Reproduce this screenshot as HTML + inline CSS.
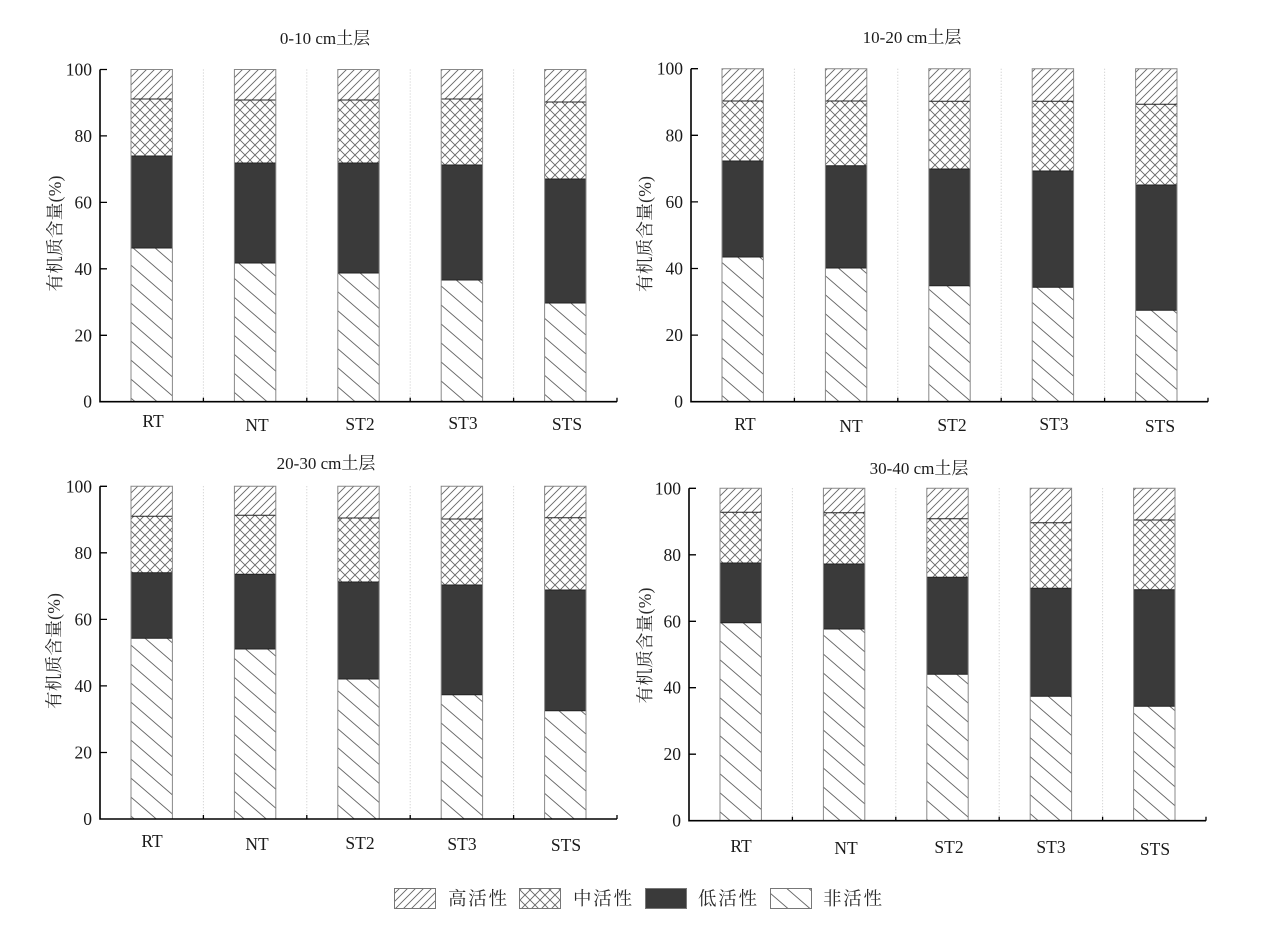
<!DOCTYPE html>
<html><head><meta charset="utf-8"><style>
html,body{margin:0;padding:0;background:#fff;}
svg{display:block;}
.tk{font-family:"Liberation Serif","Noto Serif CJK SC",serif;font-size:17.5px;fill:#1a1a1a;}
.tt{font-family:"Liberation Serif","Noto Serif CJK SC",serif;font-size:17px;fill:#1a1a1a;}
.yl{font-family:"Liberation Serif","Noto Serif CJK SC",serif;font-size:17.5px;fill:#2a2a2a;}
.lg{font-family:"Liberation Serif","Noto Serif CJK SC",serif;font-size:18.5px;fill:#2a2a2a;}
</style></head><body>
<svg width="1271" height="932" viewBox="0 0 1271 932" xmlns="http://www.w3.org/2000/svg">
<defs>
<pattern id="hi" patternUnits="userSpaceOnUse" width="8" height="8">
<rect width="8" height="8" fill="#fff"/>
<path d="M-1,1 L1,-1 M0,8 L8,0 M7,9 L9,7" stroke="#666" stroke-width="0.9"/>
</pattern>
<pattern id="mid" patternUnits="userSpaceOnUse" width="10" height="10">
<rect width="10" height="10" fill="#fff"/>
<path d="M0,0 L10,10 M-1,9 L1,11 M9,-1 L11,1 M0,10 L10,0 M-1,1 L1,-1 M9,11 L11,9" stroke="#666" stroke-width="0.9"/>
</pattern>
<pattern id="non" patternUnits="userSpaceOnUse" width="22" height="19">
<rect width="22" height="19" fill="#fff"/>
<path d="M0,0 L22,19 M-2,17.27 L2,20.73 M20,-1.73 L24,1.73" stroke="#666" stroke-width="0.9"/>
</pattern>
</defs>
<rect width="1271" height="932" fill="#fff"/>

<!-- separators -->
<g stroke="#c8c8c8" stroke-width="1" stroke-dasharray="1 2" fill="none">
<path d="M203.4 69.5V401.7M306.8 69.5V401.7M410.2 69.5V401.7M513.6 69.5V401.7"/>
<path d="M794.4 68.7V401.7M897.8 68.7V401.7M1001.2 68.7V401.7M1104.6 68.7V401.7"/>
<path d="M203.4 486.3V819M306.8 486.3V819M410.2 486.3V819M513.6 486.3V819"/>
<path d="M792.4 488.3V820.7M895.8 488.3V820.7M999.2 488.3V820.7M1102.6 488.3V820.7"/>
</g>

<!-- ===== Panel 1 ===== -->
<g>
<path d="M131 69.5H172.4V401.7H131Z" fill="url(#hi)"/><path d="M131 99H172.4V401.7H131Z" fill="url(#mid)"/><path d="M131 156H172.4V401.7H131Z" fill="#3a3a3a"/><path d="M131 248H172.4V401.7H131Z" fill="url(#non)"/>
<path d="M131 99H172.4M131 156H172.4M131 248H172.4" stroke="#222" stroke-width="1"/><path d="M131 69.5H172.4V401.7H131Z" fill="none" stroke="#888"/>
<path d="M234.4 69.5H275.8V401.7H234.4Z" fill="url(#hi)"/><path d="M234.4 100H275.8V401.7H234.4Z" fill="url(#mid)"/><path d="M234.4 163H275.8V401.7H234.4Z" fill="#3a3a3a"/><path d="M234.4 263H275.8V401.7H234.4Z" fill="url(#non)"/>
<path d="M234.4 100H275.8M234.4 163H275.8M234.4 263H275.8" stroke="#222"/><path d="M234.4 69.5H275.8V401.7H234.4Z" fill="none" stroke="#888"/>
<path d="M337.8 69.5H379.2V401.7H337.8Z" fill="url(#hi)"/><path d="M337.8 100H379.2V401.7H337.8Z" fill="url(#mid)"/><path d="M337.8 163H379.2V401.7H337.8Z" fill="#3a3a3a"/><path d="M337.8 273H379.2V401.7H337.8Z" fill="url(#non)"/>
<path d="M337.8 100H379.2M337.8 163H379.2M337.8 273H379.2" stroke="#222"/><path d="M337.8 69.5H379.2V401.7H337.8Z" fill="none" stroke="#888"/>
<path d="M441.2 69.5H482.6V401.7H441.2Z" fill="url(#hi)"/><path d="M441.2 99H482.6V401.7H441.2Z" fill="url(#mid)"/><path d="M441.2 165H482.6V401.7H441.2Z" fill="#3a3a3a"/><path d="M441.2 280H482.6V401.7H441.2Z" fill="url(#non)"/>
<path d="M441.2 99H482.6M441.2 165H482.6M441.2 280H482.6" stroke="#222"/><path d="M441.2 69.5H482.6V401.7H441.2Z" fill="none" stroke="#888"/>
<path d="M544.6 69.5H586V401.7H544.6Z" fill="url(#hi)"/><path d="M544.6 102H586V401.7H544.6Z" fill="url(#mid)"/><path d="M544.6 179H586V401.7H544.6Z" fill="#3a3a3a"/><path d="M544.6 303H586V401.7H544.6Z" fill="url(#non)"/>
<path d="M544.6 102H586M544.6 179H586M544.6 303H586" stroke="#222"/><path d="M544.6 69.5H586V401.7H544.6Z" fill="none" stroke="#888"/>
<path d="M100 69.5V401.7H617" fill="none" stroke="#000" stroke-width="1.6"/>
<path d="M100 69.5h7M100 135.9h7M100 202.4h7M100 268.8h7M100 335.3h7M203.4 401.7v-4M306.8 401.7v-4M410.2 401.7v-4M513.6 401.7v-4M617 401.7v-4" stroke="#000" stroke-width="1.3"/>
<g class="tk" text-anchor="end"><text x="92" y="75.5">100</text><text x="92" y="141.9">80</text><text x="92" y="208.4">60</text><text x="92" y="274.8">40</text><text x="92" y="341.3">20</text><text x="92" y="407.7">0</text></g>
<g class="tk" text-anchor="middle"><text x="153" y="427">RT</text><text x="257" y="431">NT</text><text x="360" y="430">ST2</text><text x="463" y="429">ST3</text><text x="567" y="430">STS</text></g>
<text class="tt" x="325" y="44" text-anchor="middle">0-10 cm土层</text>
<text class="yl" transform="translate(55,233.5) rotate(-90)" text-anchor="middle" dominant-baseline="central" textLength="116" lengthAdjust="spacing">有机质含量(%)</text>
</g>

<!-- ===== Panel 2 ===== -->
<g>
<path d="M722 68.7H763.4V401.7H722Z" fill="url(#hi)"/><path d="M722 101H763.4V401.7H722Z" fill="url(#mid)"/><path d="M722 161H763.4V401.7H722Z" fill="#3a3a3a"/><path d="M722 257H763.4V401.7H722Z" fill="url(#non)"/>
<path d="M722 101H763.4M722 161H763.4M722 257H763.4" stroke="#222"/><path d="M722 68.7H763.4V401.7H722Z" fill="none" stroke="#888"/>
<path d="M825.4 68.7H866.8V401.7H825.4Z" fill="url(#hi)"/><path d="M825.4 101H866.8V401.7H825.4Z" fill="url(#mid)"/><path d="M825.4 165.7H866.8V401.7H825.4Z" fill="#3a3a3a"/><path d="M825.4 268H866.8V401.7H825.4Z" fill="url(#non)"/>
<path d="M825.4 101H866.8M825.4 165.7H866.8M825.4 268H866.8" stroke="#222"/><path d="M825.4 68.7H866.8V401.7H825.4Z" fill="none" stroke="#888"/>
<path d="M928.8 68.7H970.2V401.7H928.8Z" fill="url(#hi)"/><path d="M928.8 101.3H970.2V401.7H928.8Z" fill="url(#mid)"/><path d="M928.8 169H970.2V401.7H928.8Z" fill="#3a3a3a"/><path d="M928.8 285.7H970.2V401.7H928.8Z" fill="url(#non)"/>
<path d="M928.8 101.3H970.2M928.8 169H970.2M928.8 285.7H970.2" stroke="#222"/><path d="M928.8 68.7H970.2V401.7H928.8Z" fill="none" stroke="#888"/>
<path d="M1032.2 68.7H1073.6V401.7H1032.2Z" fill="url(#hi)"/><path d="M1032.2 101.3H1073.6V401.7H1032.2Z" fill="url(#mid)"/><path d="M1032.2 171H1073.6V401.7H1032.2Z" fill="#3a3a3a"/><path d="M1032.2 287.3H1073.6V401.7H1032.2Z" fill="url(#non)"/>
<path d="M1032.2 101.3H1073.6M1032.2 171H1073.6M1032.2 287.3H1073.6" stroke="#222"/><path d="M1032.2 68.7H1073.6V401.7H1032.2Z" fill="none" stroke="#888"/>
<path d="M1135.6 68.7H1177V401.7H1135.6Z" fill="url(#hi)"/><path d="M1135.6 104.3H1177V401.7H1135.6Z" fill="url(#mid)"/><path d="M1135.6 185H1177V401.7H1135.6Z" fill="#3a3a3a"/><path d="M1135.6 310.3H1177V401.7H1135.6Z" fill="url(#non)"/>
<path d="M1135.6 104.3H1177M1135.6 185H1177M1135.6 310.3H1177" stroke="#222"/><path d="M1135.6 68.7H1177V401.7H1135.6Z" fill="none" stroke="#888"/>
<path d="M691 68.7V401.7H1208" fill="none" stroke="#000" stroke-width="1.6"/>
<path d="M691 68.7h7M691 135.3h7M691 201.9h7M691 268.5h7M691 335.1h7M794.4 401.7v-4M897.8 401.7v-4M1001.2 401.7v-4M1104.6 401.7v-4M1208 401.7v-4" stroke="#000" stroke-width="1.3"/>
<g class="tk" text-anchor="end"><text x="683" y="74.7">100</text><text x="683" y="141.3">80</text><text x="683" y="207.9">60</text><text x="683" y="274.5">40</text><text x="683" y="341.1">20</text><text x="683" y="407.7">0</text></g>
<g class="tk" text-anchor="middle"><text x="745" y="430">RT</text><text x="851" y="432">NT</text><text x="952" y="431">ST2</text><text x="1054" y="430">ST3</text><text x="1160" y="432">STS</text></g>
<text class="tt" x="912" y="43" text-anchor="middle">10-20 cm土层</text>
<text class="yl" transform="translate(645,234) rotate(-90)" text-anchor="middle" dominant-baseline="central" textLength="116" lengthAdjust="spacing">有机质含量(%)</text>
</g>

<!-- ===== Panel 3 ===== -->
<g>
<path d="M131 486.3H172.4V819H131Z" fill="url(#hi)"/><path d="M131 516.3H172.4V819H131Z" fill="url(#mid)"/><path d="M131 572.7H172.4V819H131Z" fill="#3a3a3a"/><path d="M131 638.3H172.4V819H131Z" fill="url(#non)"/>
<path d="M131 516.3H172.4M131 572.7H172.4M131 638.3H172.4" stroke="#222"/><path d="M131 486.3H172.4V819H131Z" fill="none" stroke="#888"/>
<path d="M234.4 486.3H275.8V819H234.4Z" fill="url(#hi)"/><path d="M234.4 515.3H275.8V819H234.4Z" fill="url(#mid)"/><path d="M234.4 574.3H275.8V819H234.4Z" fill="#3a3a3a"/><path d="M234.4 649H275.8V819H234.4Z" fill="url(#non)"/>
<path d="M234.4 515.3H275.8M234.4 574.3H275.8M234.4 649H275.8" stroke="#222"/><path d="M234.4 486.3H275.8V819H234.4Z" fill="none" stroke="#888"/>
<path d="M337.8 486.3H379.2V819H337.8Z" fill="url(#hi)"/><path d="M337.8 518H379.2V819H337.8Z" fill="url(#mid)"/><path d="M337.8 582H379.2V819H337.8Z" fill="#3a3a3a"/><path d="M337.8 679H379.2V819H337.8Z" fill="url(#non)"/>
<path d="M337.8 518H379.2M337.8 582H379.2M337.8 679H379.2" stroke="#222"/><path d="M337.8 486.3H379.2V819H337.8Z" fill="none" stroke="#888"/>
<path d="M441.2 486.3H482.6V819H441.2Z" fill="url(#hi)"/><path d="M441.2 519H482.6V819H441.2Z" fill="url(#mid)"/><path d="M441.2 585H482.6V819H441.2Z" fill="#3a3a3a"/><path d="M441.2 694.7H482.6V819H441.2Z" fill="url(#non)"/>
<path d="M441.2 519H482.6M441.2 585H482.6M441.2 694.7H482.6" stroke="#222"/><path d="M441.2 486.3H482.6V819H441.2Z" fill="none" stroke="#888"/>
<path d="M544.6 486.3H586V819H544.6Z" fill="url(#hi)"/><path d="M544.6 517.7H586V819H544.6Z" fill="url(#mid)"/><path d="M544.6 590H586V819H544.6Z" fill="#3a3a3a"/><path d="M544.6 710.7H586V819H544.6Z" fill="url(#non)"/>
<path d="M544.6 517.7H586M544.6 590H586M544.6 710.7H586" stroke="#222"/><path d="M544.6 486.3H586V819H544.6Z" fill="none" stroke="#888"/>
<path d="M100 486.3V819H617" fill="none" stroke="#000" stroke-width="1.6"/>
<path d="M100 486.3h7M100 552.8h7M100 619.4h7M100 685.9h7M100 752.5h7M203.4 819v-4M306.8 819v-4M410.2 819v-4M513.6 819v-4M617 819v-4" stroke="#000" stroke-width="1.3"/>
<g class="tk" text-anchor="end"><text x="92" y="492.3">100</text><text x="92" y="558.8">80</text><text x="92" y="625.4">60</text><text x="92" y="691.9">40</text><text x="92" y="758.5">20</text><text x="92" y="825">0</text></g>
<g class="tk" text-anchor="middle"><text x="152" y="847">RT</text><text x="257" y="850">NT</text><text x="360" y="849">ST2</text><text x="462" y="850">ST3</text><text x="566" y="851">STS</text></g>
<text class="tt" x="326" y="469" text-anchor="middle">20-30 cm土层</text>
<text class="yl" transform="translate(54,651) rotate(-90)" text-anchor="middle" dominant-baseline="central" textLength="116" lengthAdjust="spacing">有机质含量(%)</text>
</g>

<!-- ===== Panel 4 ===== -->
<g>
<path d="M720 488.3H761.4V820.7H720Z" fill="url(#hi)"/><path d="M720 512.3H761.4V820.7H720Z" fill="url(#mid)"/><path d="M720 563H761.4V820.7H720Z" fill="#3a3a3a"/><path d="M720 622.7H761.4V820.7H720Z" fill="url(#non)"/>
<path d="M720 512.3H761.4M720 563H761.4M720 622.7H761.4" stroke="#222"/><path d="M720 488.3H761.4V820.7H720Z" fill="none" stroke="#888"/>
<path d="M823.4 488.3H864.8V820.7H823.4Z" fill="url(#hi)"/><path d="M823.4 512.7H864.8V820.7H823.4Z" fill="url(#mid)"/><path d="M823.4 564H864.8V820.7H823.4Z" fill="#3a3a3a"/><path d="M823.4 629H864.8V820.7H823.4Z" fill="url(#non)"/>
<path d="M823.4 512.7H864.8M823.4 564H864.8M823.4 629H864.8" stroke="#222"/><path d="M823.4 488.3H864.8V820.7H823.4Z" fill="none" stroke="#888"/>
<path d="M926.8 488.3H968.2V820.7H926.8Z" fill="url(#hi)"/><path d="M926.8 518.7H968.2V820.7H926.8Z" fill="url(#mid)"/><path d="M926.8 577.3H968.2V820.7H926.8Z" fill="#3a3a3a"/><path d="M926.8 674.3H968.2V820.7H926.8Z" fill="url(#non)"/>
<path d="M926.8 518.7H968.2M926.8 577.3H968.2M926.8 674.3H968.2" stroke="#222"/><path d="M926.8 488.3H968.2V820.7H926.8Z" fill="none" stroke="#888"/>
<path d="M1030.2 488.3H1071.6V820.7H1030.2Z" fill="url(#hi)"/><path d="M1030.2 522.7H1071.6V820.7H1030.2Z" fill="url(#mid)"/><path d="M1030.2 588.3H1071.6V820.7H1030.2Z" fill="#3a3a3a"/><path d="M1030.2 696.3H1071.6V820.7H1030.2Z" fill="url(#non)"/>
<path d="M1030.2 522.7H1071.6M1030.2 588.3H1071.6M1030.2 696.3H1071.6" stroke="#222"/><path d="M1030.2 488.3H1071.6V820.7H1030.2Z" fill="none" stroke="#888"/>
<path d="M1133.6 488.3H1175V820.7H1133.6Z" fill="url(#hi)"/><path d="M1133.6 520H1175V820.7H1133.6Z" fill="url(#mid)"/><path d="M1133.6 589.7H1175V820.7H1133.6Z" fill="#3a3a3a"/><path d="M1133.6 706.3H1175V820.7H1133.6Z" fill="url(#non)"/>
<path d="M1133.6 520H1175M1133.6 589.7H1175M1133.6 706.3H1175" stroke="#222"/><path d="M1133.6 488.3H1175V820.7H1133.6Z" fill="none" stroke="#888"/>
<path d="M689 488.3V820.7H1206" fill="none" stroke="#000" stroke-width="1.6"/>
<path d="M689 488.3h7M689 554.8h7M689 621.3h7M689 687.7h7M689 754.2h7M792.4 820.7v-4M895.8 820.7v-4M999.2 820.7v-4M1102.6 820.7v-4M1206 820.7v-4" stroke="#000" stroke-width="1.3"/>
<g class="tk" text-anchor="end"><text x="681" y="494.3">100</text><text x="681" y="560.8">80</text><text x="681" y="627.3">60</text><text x="681" y="693.7">40</text><text x="681" y="760.2">20</text><text x="681" y="826.7">0</text></g>
<g class="tk" text-anchor="middle"><text x="741" y="852">RT</text><text x="846" y="854">NT</text><text x="949" y="853">ST2</text><text x="1051" y="853">ST3</text><text x="1155" y="855">STS</text></g>
<text class="tt" x="919" y="474" text-anchor="middle">30-40 cm土层</text>
<text class="yl" transform="translate(645,645.5) rotate(-90)" text-anchor="middle" dominant-baseline="central" textLength="116" lengthAdjust="spacing">有机质含量(%)</text>
</g>

<!-- ===== Legend ===== -->
<g>
<rect x="394.5" y="888.5" width="41" height="20" fill="url(#hi)" stroke="#777"/>
<text class="lg" x="448" y="905" textLength="59" lengthAdjust="spacing">高活性</text>
<rect x="519.5" y="888.5" width="41" height="20" fill="url(#mid)" stroke="#777"/>
<text class="lg" x="573" y="905" textLength="59" lengthAdjust="spacing">中活性</text>
<rect x="645.5" y="888.5" width="41" height="20" fill="#3a3a3a" stroke="#777"/>
<text class="lg" x="698" y="905" textLength="59" lengthAdjust="spacing">低活性</text>
<rect x="770.5" y="888.5" width="41" height="20" fill="url(#non)" stroke="#777"/>
<text class="lg" x="823" y="905" textLength="59" lengthAdjust="spacing">非活性</text>
</g>
</svg>
</body></html>
